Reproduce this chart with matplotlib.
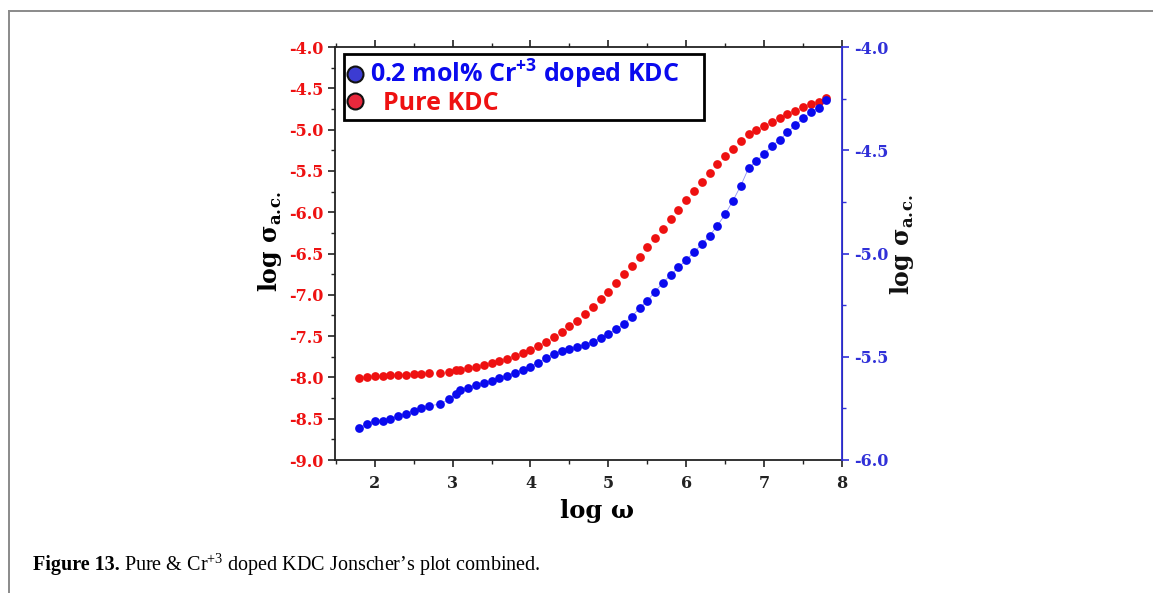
import matplotlib
matplotlib.use("Agg")
import matplotlib.pyplot as plt
from matplotlib.lines import Line2D
from matplotlib.ticker import MultipleLocator, FormatStrFormatter

# ---------------- data ----------------
log_omega = [1.8, 1.9, 2.0, 2.1, 2.2, 2.3, 2.4, 2.5, 2.6, 2.7,
             2.84, 2.96, 3.04, 3.09, 3.2, 3.3, 3.4, 3.5, 3.6, 3.7,
             3.8, 3.9, 4.0, 4.1, 4.2, 4.3, 4.4, 4.5, 4.6, 4.7,
             4.8, 4.9, 5.0, 5.1, 5.2, 5.3, 5.4, 5.5, 5.6, 5.7,
             5.8, 5.9, 6.0, 6.1, 6.2, 6.3, 6.4, 6.5, 6.6, 6.7,
             6.8, 6.9, 7.0, 7.1, 7.2, 7.3, 7.4, 7.5, 7.6, 7.7, 7.8]

# Pure KDC (left axis)
pure_kdc = [-8.01, -7.99, -7.985, -7.98, -7.975, -7.97, -7.965, -7.96, -7.955, -7.95,
            -7.945, -7.93, -7.915, -7.905, -7.89, -7.87, -7.85, -7.83, -7.80, -7.775,
            -7.74, -7.71, -7.67, -7.616, -7.567, -7.507, -7.450, -7.378, -7.313, -7.232,
            -7.148, -7.055, -6.966, -6.861, -6.752, -6.651, -6.542, -6.425, -6.312, -6.199,
            -6.086, -5.970, -5.855, -5.742, -5.631, -5.525, -5.420, -5.320, -5.231, -5.138,
            -5.049, -5.009, -4.956, -4.912, -4.863, -4.815, -4.771, -4.730, -4.694, -4.662, -4.614]

# 0.2 mol% Cr+3 doped KDC (right axis)
doped_kdc = [-5.846, -5.826, -5.810, -5.810, -5.803, -5.787, -5.777, -5.761, -5.750, -5.738,
             -5.729, -5.705, -5.682, -5.661, -5.650, -5.637, -5.629, -5.616, -5.604, -5.592,
             -5.577, -5.564, -5.548, -5.528, -5.507, -5.485, -5.474, -5.463, -5.452, -5.442,
             -5.427, -5.411, -5.390, -5.367, -5.341, -5.306, -5.264, -5.229, -5.185, -5.141,
             -5.104, -5.067, -5.031, -4.994, -4.954, -4.914, -4.865, -4.810, -4.744, -4.672,
             -4.587, -4.552, -4.518, -4.478, -4.450, -4.413, -4.378, -4.345, -4.316, -4.294, -4.258]

x_ticks = [2, 3, 4, 5, 6, 7, 8]
legend_labels = ["0.2 mol% Cr$^{\\mathsf{+3}}$ doped KDC", "  Pure KDC"]

# ---------------- style ----------------
plt.rcParams['axes.unicode_minus'] = False
plt.rcParams['mathtext.fontset'] = 'custom'
plt.rcParams['mathtext.rm'] = 'Liberation Serif'
plt.rcParams['mathtext.bf'] = 'DejaVu Serif:bold'
plt.rcParams['mathtext.sf'] = 'Open Sans:bold'

RED = '#ee1111'
BLUE = '#0a0aee'
AXBLUE = '#3030d8'
SERIF = 'DejaVu Serif'

fig = plt.figure(figsize=(11.53, 5.93), dpi=100)
ax = fig.add_axes([335/1153, 1-460/593, 507/1153, 413/593])
ax2 = ax.twinx()

ax.plot(log_omega, pure_kdc, 'o', color=RED, ms=6.3, mew=0, zorder=3)
ax2.plot(log_omega, doped_kdc, '-', color=BLUE, lw=0.6, alpha=0.45, zorder=2)
ax2.plot(log_omega, doped_kdc, 'o', color=BLUE, ms=6.3, mew=0, zorder=3)

ax.set_xlim(1.49, 8.0)
ax.set_ylim(-9.0, -4.0)
ax2.set_ylim(-6.0, -4.0)

ax.set_xticks(x_ticks)
ax.xaxis.set_minor_locator(MultipleLocator(0.5))
ax.yaxis.set_major_locator(MultipleLocator(0.5))
ax.yaxis.set_minor_locator(MultipleLocator(0.25))
ax2.yaxis.set_major_locator(MultipleLocator(0.5))
ax2.yaxis.set_minor_locator(MultipleLocator(0.25))
ax.yaxis.set_major_formatter(FormatStrFormatter('%.1f'))
ax2.yaxis.set_major_formatter(FormatStrFormatter('%.1f'))

for a in (ax, ax2):
    a.tick_params(which='major', direction='out', length=5, width=1.2)
    a.tick_params(which='minor', direction='out', length=3, width=1.0)

ax.tick_params(axis='x', which='both', top=True, colors='#222222', pad=6)
ax.tick_params(axis='y', which='both', colors='#222222', labelcolor=RED)
ax2.tick_params(axis='y', which='both', colors=AXBLUE, labelcolor=AXBLUE)

for lbl in ax.get_xticklabels() + ax.get_yticklabels() + ax2.get_yticklabels():
    lbl.set_fontfamily(SERIF)
    lbl.set_fontweight('bold')
    lbl.set_fontsize(11.5)

for s in ('left', 'bottom', 'top'):
    ax.spines[s].set_color('#222222')
    ax.spines[s].set_linewidth(1.3)
ax2.spines['right'].set_color(AXBLUE)
ax2.spines['right'].set_linewidth(1.3)
for s in ('left', 'bottom', 'top'):
    ax2.spines[s].set_visible(False)

# axis labels
ax.set_xlabel('log ω', family=SERIF, weight='bold', size=17.5)
ax.xaxis.label.set_va('center')
ax.xaxis.set_label_coords((597-335)/507, (460-511)/413)
ylab = 'log σ$_{\\mathbf{a.\\!c.}}$'
fig.text(270/1153, 1-242/593, ylab, rotation=90, ha='center', va='center',
         family=SERIF, weight='bold', size=17)
fig.text(902/1153, 1-245/593, ylab, rotation=90, ha='center', va='center',
         family=SERIF, weight='bold', size=17, color='#111111')

# legend
handles = [Line2D([], [], ls='', marker='o', ms=11.5, mfc='#3c3cd2', mec='#111111', mew=1.5),
           Line2D([], [], ls='', marker='o', ms=11.5, mfc='#e8283c', mec='#111111', mew=1.5)]
leg = ax2.legend(handles, legend_labels, loc='upper left', mode='expand',
                 bbox_to_anchor=((344-335)/507, 0, (704-344)/507, (460-54)/413),
                 borderaxespad=0, frameon=True, fancybox=False,
                 handlelength=0.55, handletextpad=0.35, borderpad=0.15,
                 labelspacing=0.0, labelcolor=[BLUE, RED],
                 prop=dict(family='Open Sans', weight='bold', size=18))
leg.get_frame().set_edgecolor('black')
leg.get_frame().set_linewidth(2.0)
leg.get_frame().set_alpha(1)
leg.set_zorder(10)

# caption
cap_y = 1-565/593
t1 = fig.text(33/1153, cap_y, "Figure 13.", family='Liberation Serif', weight='bold',
              size=14.5, ha='left', va='center')
fig.canvas.draw()
bb = t1.get_window_extent()
fig.text((bb.x1 + 4)/1153, cap_y,
         "Pure & Cr$^{+3}$ doped KDC Jonscher\u2019s plot combined.",
         family='Liberation Serif', size=14.5, ha='left', va='center')

# page frame lines
fig.add_artist(Line2D([9/1153, 1.0], [1-11/593, 1-11/593], transform=fig.transFigure,
                      color='#8a8a8a', lw=1.4))
fig.add_artist(Line2D([9/1153, 9/1153], [0.0, 1-11/593], transform=fig.transFigure,
                      color='#8a8a8a', lw=1.4))

fig.savefig('out.png', dpi=100)
